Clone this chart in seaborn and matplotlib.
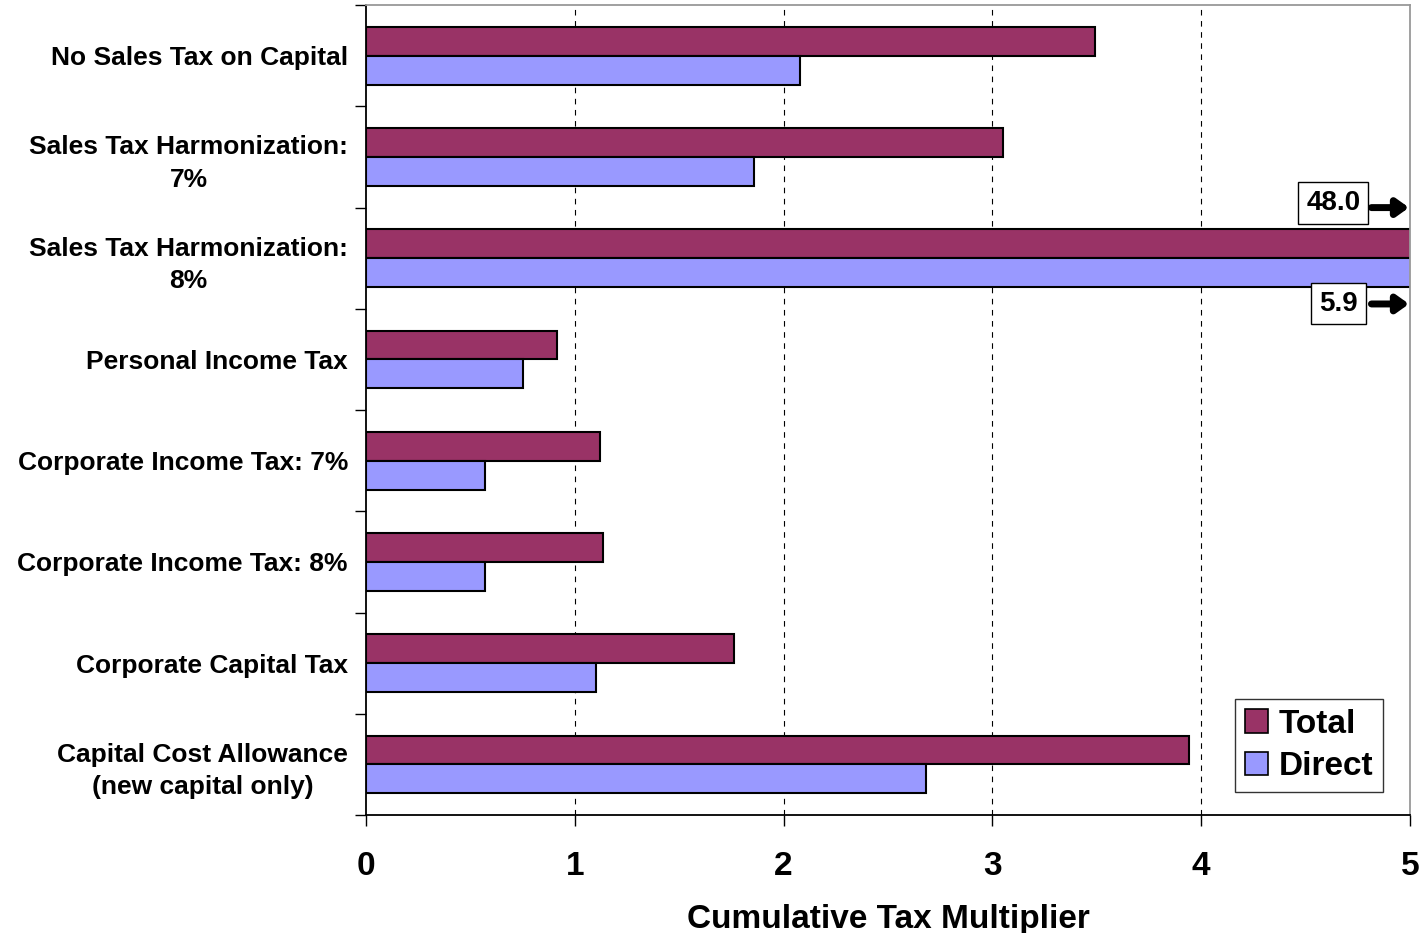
import matplotlib
matplotlib.use("Agg")
import matplotlib.pyplot as plt
import seaborn as sns
import pandas as pd
from matplotlib.patches import Patch

categories = [
    "No Sales Tax on Capital",
    "Sales Tax Harmonization:\n7%",
    "Sales Tax Harmonization:\n8%",
    "Personal Income Tax",
    "Corporate Income Tax: 7%",
    "Corporate Income Tax: 8%",
    "Corporate Capital Tax",
    "Capital Cost Allowance\n(new capital only)",
]
total_vals = [3.49, 3.05, 48.0, 0.915, 1.12, 1.135, 1.76, 3.94]
direct_vals = [2.08, 1.86, 5.9, 0.75, 0.57, 0.57, 1.10, 2.68]
series = ["Total", "Direct"]
colors = ["#993366", "#9999FF"]

df = pd.DataFrame({
    "category": categories * 2,
    "value": total_vals + direct_vals,
    "series": ["Total"] * len(categories) + ["Direct"] * len(categories),
})

sns.set_style("white")
plt.rcParams["font.family"] = ["Liberation Sans", "DejaVu Sans"]
plt.rcParams["font.weight"] = "bold"
plt.rcParams["text.color"] = "black"
plt.rcParams["axes.labelcolor"] = "black"
plt.rcParams["xtick.color"] = "black"
plt.rcParams["ytick.color"] = "black"

fig = plt.figure(figsize=(14.22, 9.33), dpi=100)
ax = fig.add_axes([0.2574, 0.1265, 0.7342, 0.868])

sns.barplot(data=df, y="category", x="value", hue="series", order=categories,
            hue_order=series, palette=colors, saturation=1, orient="h", width=0.57,
            edgecolor="black", linewidth=1.5, ax=ax, legend=False, errorbar=None)

ax.set_xlim(0, 5)
ax.set_ylim(len(categories) - 0.5, -0.5)
ax.set_xticks(range(6))
ax.set_xticklabels([str(i) for i in range(6)], fontsize=24, fontweight="bold")
ax.tick_params(axis="x", direction="out", length=8, width=1, color="black", pad=18, bottom=True)

ax.set_yticks(range(len(categories)))
ax.set_yticklabels(categories, fontsize=19, fontweight="bold", multialignment="center",
                   linespacing=1.45)
ax.tick_params(axis="y", which="major", length=0, pad=13)
ax.set_yticks([i - 0.5 for i in range(len(categories) + 1)], minor=True)
ax.tick_params(axis="y", which="minor", direction="out", length=8, width=1, color="black", left=True)

ax.set_xlabel("Cumulative Tax Multiplier", fontsize=24, fontweight="bold", labelpad=16)
ax.set_ylabel("")

for v in range(1, 5):
    ax.axvline(v, color="black", linestyle=(0, (5, 5)), linewidth=0.8, zorder=0)

for side in ["left", "bottom"]:
    ax.spines[side].set_color("black")
    ax.spines[side].set_linewidth(1.3)
for side in ["top", "right"]:
    ax.spines[side].set_color("#999999")
    ax.spines[side].set_linewidth(1.3)
    ax.spines[side].set_visible(True)

# Off-scale value annotations
box = dict(boxstyle="square,pad=0.28", fc="white", ec="black", lw=1)
ax.text(0.9265, 0.7556, f"{total_vals[2]:.1f}", transform=ax.transAxes, fontsize=20,
        fontweight="bold", ha="center", va="center", bbox=box)
ax.text(0.9315, 0.6315, f"{direct_vals[2]:.1f}", transform=ax.transAxes, fontsize=20,
        fontweight="bold", ha="center", va="center", bbox=box)
for y in [0.750, 0.631]:
    ax.annotate("", xy=(0.999, y), xytext=(0.963, y), xycoords="axes fraction",
                arrowprops=dict(arrowstyle="-|>,head_length=0.7,head_width=0.5",
                                color="black", lw=5, shrinkA=0, shrinkB=0))

handles = [Patch(facecolor=c, edgecolor="black", linewidth=1.2, label=s)
           for s, c in zip(series, colors)]
leg = ax.legend(handles=handles, loc="lower right", bbox_to_anchor=(0.974, 0.028),
                borderaxespad=0, frameon=True, fancybox=False,
                handlelength=0.7, handleheight=0.7, handletextpad=0.3,
                borderpad=0.3, labelspacing=0.35, prop={"weight": "bold", "size": 24})
leg.get_frame().set_edgecolor("black")
leg.get_frame().set_linewidth(1)

fig.savefig("out.png", dpi=100)
